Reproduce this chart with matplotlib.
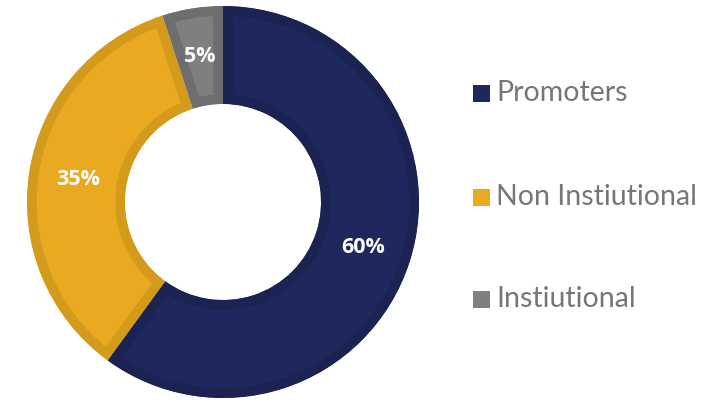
import matplotlib.pyplot as plt
from matplotlib.patches import Rectangle

# data (drawn counter-clockwise from 12 o'clock)
labels = ["Instiutional", "Non Instiutional", "Promoters"]
shares = [5, 35, 60]
fill_colors = ["#7f7f7f", "#e9aa22", "#1f285c"]
edge_colors = ["#6e6e6e", "#d49a1b", "#1b2352"]

# legend order, top to bottom
legend_order = ["Promoters", "Non Instiutional", "Instiutional"]

W, H = 717, 403
fig = plt.figure(figsize=(W / 100, H / 100), dpi=100)
fig.patch.set_facecolor("white")

# donut centre (223, 201 from bottom), radius 196 px
cx, cy, r = 223, 201, 196
ax = fig.add_axes([(cx - r) / W, (cy - r) / H, 2 * r / W, 2 * r / H])

wedges, texts, autotexts = ax.pie(
    shares,
    colors=fill_colors,
    startangle=90,
    counterclock=True,
    radius=1.0,
    autopct="%d%%",
    pctdistance=0.75,
    wedgeprops=dict(width=0.5, linewidth=14, antialiased=True),
    textprops=dict(color="white", fontsize=15.5, fontweight="bold", family="Open Sans"),
)
for w, ec in zip(wedges, edge_colors):
    w.set_edgecolor(ec)
    w.set_clip_on(True)
    w.set_clip_path(w)  # keep the stroke inside each wedge

ax.set_xlim(-1, 1)
ax.set_ylim(-1, 1)
ax.set_aspect("equal")
ax.axis("off")

# legend drawn by hand
color_of = dict(zip(labels, fill_colors))
rows_y = [93, 197, 299]
for name, y in zip(legend_order, rows_y):
    fig.patches.append(Rectangle(((473) / W, (H - y - 8.5) / H), 17 / W, 17 / H,
                                 transform=fig.transFigure, facecolor=color_of[name],
                                 edgecolor="none"))
    fig.text(496 / W, (H - y) / H, name, color="#767676", fontsize=20.5,
             family="Lato", va="center", ha="left")

fig.savefig("out.png", dpi=100)
